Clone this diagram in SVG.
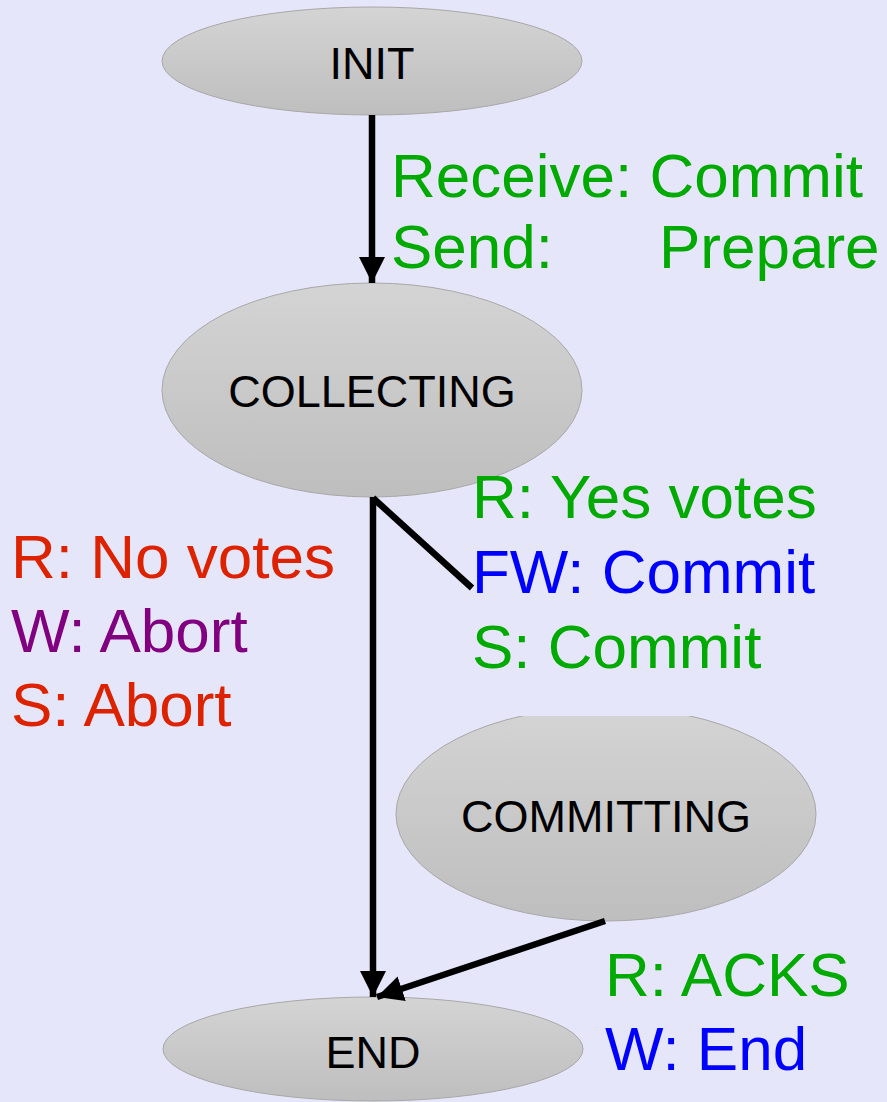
<svg xmlns="http://www.w3.org/2000/svg" width="887" height="1102" viewBox="0 0 887 1102">
<defs>
<linearGradient id="g" x1="0" y1="0" x2="0" y2="1">
<stop offset="0" stop-color="#d4d4d4"/>
<stop offset="1" stop-color="#bebebe"/>
</linearGradient>
<marker id="ah" markerUnits="userSpaceOnUse" markerWidth="27" markerHeight="27" refX="26" refY="13" orient="auto">
<path d="M0,0 L26,13 L0,26 z" fill="#000"/>
</marker>
<clipPath id="cc"><rect x="0" y="716" width="887" height="400"/></clipPath>
<style>
.n{fill:url(#g);stroke:#a8a8a8;stroke-width:1}
.nt{font-family:"Liberation Sans",Arial,sans-serif;font-size:45px;fill:#000;text-anchor:middle}
.e{stroke:#000;stroke-width:6.5;fill:none}
.l{font-family:"Liberation Sans",Arial,sans-serif;font-size:62px}
.gr{fill:#00aa00}.rd{fill:#dd2200}.pu{fill:#800080}.bl{fill:#0000ff}
</style>
</defs>
<rect width="887" height="1102" fill="#e6e6fa"/>
<g id="init"><ellipse class="n" cx="372" cy="61" rx="210" ry="54"/><text class="nt" x="372" y="79">INIT</text></g>
<g id="collecting"><ellipse class="n" cx="372" cy="390" rx="210" ry="107"/><text class="nt" x="372" y="407">COLLECTING</text></g>
<g id="committing"><ellipse class="n" cx="606" cy="814" rx="210" ry="107" clip-path="url(#cc)"/><text class="nt" x="606" y="832">COMMITTING</text></g>
<g id="end"><ellipse class="n" cx="373" cy="1049" rx="210" ry="52"/><text class="nt" x="373" y="1068">END</text></g>
<g id="edges">
<line class="e" x1="372" y1="115" x2="372" y2="283" marker-end="url(#ah)"/>
<line class="e" x1="373" y1="497" x2="373" y2="997" marker-end="url(#ah)"/>
<line class="e" x1="373" y1="498" x2="472" y2="588"/>
<line class="e" x1="605" y1="921" x2="377" y2="997" marker-end="url(#ah)"/>
</g>
<g id="labels" class="l">
<text class="gr" x="391" y="197">Receive: Commit</text>
<text class="gr" x="391" y="268">Send:<tspan x="659">Prepare</tspan></text>
<text class="rd" x="11" y="578">R: No votes</text>
<text class="pu" x="11" y="652">W: Abort</text>
<text class="rd" x="11" y="726">S: Abort</text>
<text class="gr" x="472" y="518">R: Yes votes</text>
<text class="bl" x="472" y="593">FW: Commit</text>
<text class="gr" x="472" y="668">S: Commit</text>
<text class="gr" x="605" y="996">R: ACKS</text>
<text class="bl" x="605" y="1070">W: End</text>
</g>
</svg>
